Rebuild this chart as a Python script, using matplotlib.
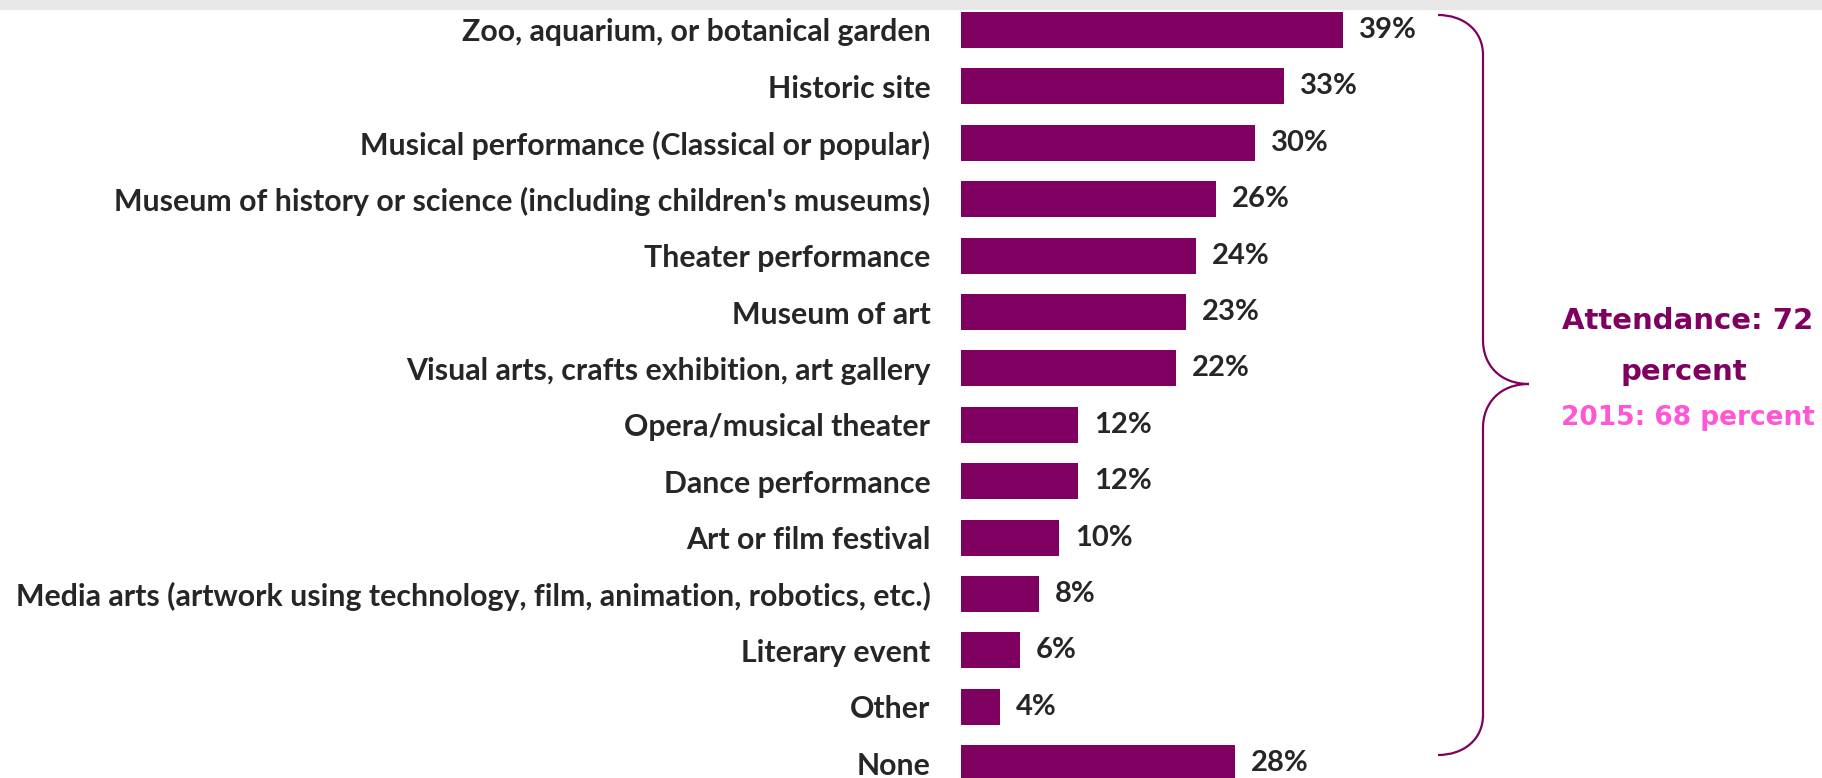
import matplotlib.pyplot as plt
from matplotlib.patches import Rectangle, PathPatch
from matplotlib.path import Path

categories = [
    "Zoo, aquarium, or botanical garden",
    "Historic site",
    "Musical performance (Classical or popular)",
    "Museum of history or science (including children's museums)",
    "Theater performance",
    "Museum of art",
    "Visual arts, crafts exhibition, art gallery",
    "Opera/musical theater",
    "Dance performance",
    "Art or film festival",
    "Media arts (artwork using technology, film, animation, robotics, etc.)",
    "Literary event",
    "Other",
    "None",
]
values = [39, 33, 30, 26, 24, 23, 22, 12, 12, 10, 8, 6, 4, 28]

attendance = 72
attendance_2015 = 68

BAR = "#7F0060"
TEXT = "#262626"
PINK = "#FF55D6"

W, H = 1822, 778
fig = plt.figure(figsize=(W / 100, H / 100), dpi=100)

# axes: left edge where bars start, full height
x0 = 961
ax = fig.add_axes([x0 / W, 0, 1 - x0 / W, 1])
px_per_pct = 9.79
ax.set_xlim(0, (W - x0) / px_per_pct)
top_c, step = 30, 56.4
ax.set_ylim((H - top_c) / step, -top_c / step)

ypos = list(range(len(categories)))
bars = ax.barh(ypos, values, height=0.64, color=BAR)
ax.bar_label(bars, labels=[f"{v}%" for v in values], padding=11.5,
             fontsize=21, fontweight="bold", color=TEXT, family="Lato")

ax.set_yticks(ypos)
ax.set_yticklabels(categories, fontsize=21.8, fontweight="bold", color=TEXT,
                   family="Lato")
ax.tick_params(axis="y", length=0, pad=22)
ax.tick_params(axis="x", bottom=False, labelbottom=False)
for s in ax.spines.values():
    s.set_visible(False)


def fp(x, y):
    # pixel from top-left -> figure fraction
    return (x / W, 1 - y / H)


# brace
verts = [
    (1438, 15), (1463, 15), (1483, 30), (1483, 55),
    (1483, 340),
    (1483, 365), (1500, 384), (1529, 384),
    (1500, 384), (1483, 403), (1483, 428),
    (1483, 715),
    (1483, 740), (1463, 755), (1438, 755),
]
codes = [Path.MOVETO, Path.CURVE4, Path.CURVE4, Path.CURVE4,
         Path.LINETO,
         Path.CURVE4, Path.CURVE4, Path.CURVE4,
         Path.CURVE4, Path.CURVE4, Path.CURVE4,
         Path.LINETO,
         Path.CURVE4, Path.CURVE4, Path.CURVE4]
brace = PathPatch(Path([fp(*v) for v in verts], codes), transform=fig.transFigure,
                  fill=False, edgecolor=BAR, lw=1.6)
fig.add_artist(brace)

fig.text(*fp(1688, 321), f"Attendance: {attendance}", ha="center",
         va="center", fontsize=21, fontweight="bold", color=BAR,
         family="DejaVu Sans")
fig.text(*fp(1684, 372), "percent", ha="center",
         va="center", fontsize=21, fontweight="bold", color=BAR,
         family="DejaVu Sans")
fig.text(*fp(1688, 418), f"2015: {attendance_2015} percent", ha="center",
         va="center", fontsize=19, fontweight="bold", color=PINK,
         family="DejaVu Sans")

# grey strip at top
fig.add_artist(Rectangle(fp(0, 9), 1, 9 / H, transform=fig.transFigure,
                         color="#E8E8E8", zorder=10))

fig.savefig("out.png", dpi=100)
